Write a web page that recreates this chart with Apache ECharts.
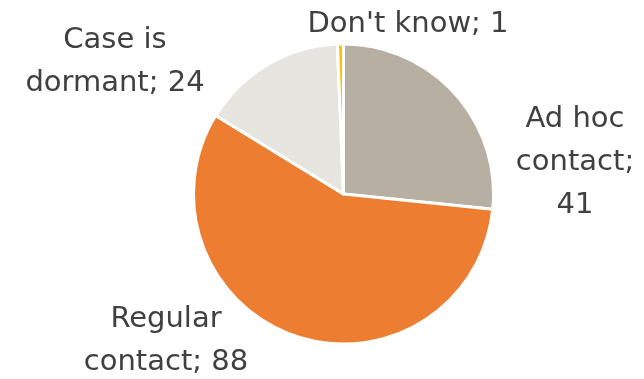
<!DOCTYPE html>
<html>
<head>
<meta charset="utf-8">
<script src="https://cdn.jsdelivr.net/npm/echarts@6/dist/echarts.min.js"></script>
<style>
  html, body { margin: 0; padding: 0; background: #ffffff; }
  #chart { width: 644px; height: 379px; }
</style>
</head>
<body>
<div id="chart"></div>
<script>
// Contact status of cases
const categories = ['Ad hoc contact', 'Regular contact', 'Case is dormant', "Don't know"];
const labelNames = ['Ad hoc\ncontact;\n', 'Regular\ncontact; ', 'Case is\ndormant; ', "Don't know; "];
const counts = [41, 88, 24, 1];
const sliceColors = ['#b7afa2', '#ed7d31', '#e7e5e0', '#ffc000'];
// label anchor points (centre of each text block)
const labelAnchors = [[575, 162], [166, 341], [115, 62], [408, 24]];

const chart = echarts.init(document.getElementById('chart'));
chart.setOption({
  animation: false,
  series: [{
    type: 'pie',
    center: [343.5, 194],
    radius: [0, 150],
    startAngle: 90,
    clockwise: true,
    data: categories.map((c, i) => ({
      name: c,
      value: counts[i],
      itemStyle: { color: sliceColors[i] },
      label: { formatter: labelNames[i] + counts[i] }
    })),
    itemStyle: { borderColor: '#ffffff', borderWidth: 3 },
    label: {
      show: true,
      position: 'outside',
      color: '#404040',
      fontFamily: 'DejaVu Sans',
      fontSize: 29,
      lineHeight: 43,
      align: 'center',
      overflow: 'none'
    },
    labelLine: { show: false },
    labelLayout: function (p) {
      const a = labelAnchors[p.dataIndex];
      return { x: a[0], y: a[1], align: 'center', verticalAlign: 'middle' };
    }
  }]
});
</script>
</body>
</html>
